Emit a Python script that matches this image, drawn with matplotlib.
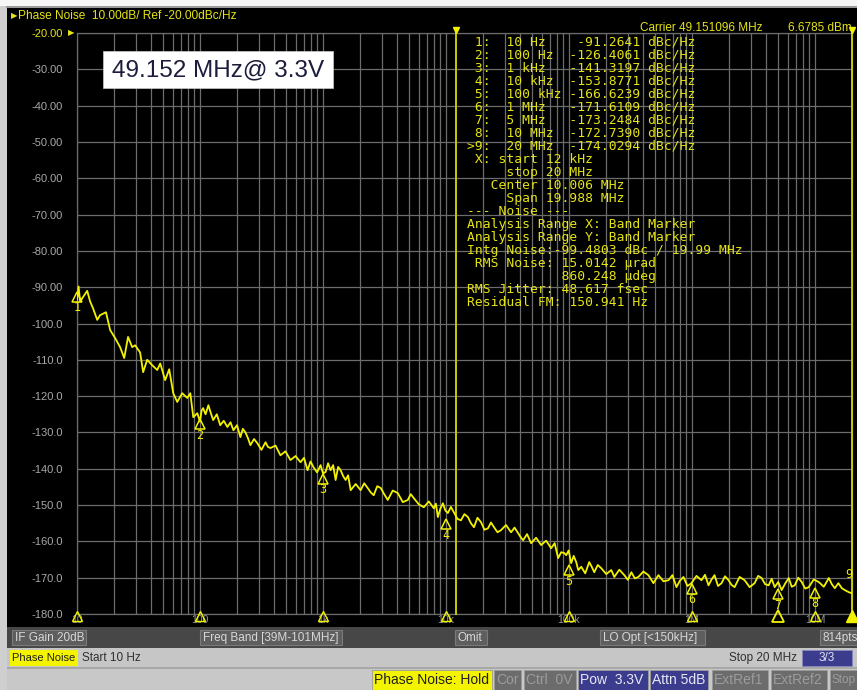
import matplotlib
matplotlib.use("Agg")
import matplotlib.pyplot as plt
from matplotlib.patches import Rectangle
from matplotlib import transforms as mtrans
from matplotlib.ticker import LogLocator, FixedLocator, NullFormatter

# ---------------- data ----------------
freq_hz = [10, 10.3, 10.6, 11.2, 12.1, 12.8, 13.5, 14.6, 15.4, 17.2, 18.6, 20.4, 22.4, 24.2,
           26.0, 28.1, 29.7, 32.6, 34.5, 37.2, 40.9, 44.9, 47.5, 52.1, 56.2, 60.6, 65.3, 71.7,
           78.8, 83.4, 88.2, 95.1,
           100, 103, 106, 111, 117, 122, 128, 137, 146, 156, 167, 177, 187, 200, 213, 223,
           234, 245, 257, 275, 293, 316, 341, 357, 374, 411, 451, 495, 544, 598, 657, 701,
           749, 792, 838, 895, 956, 1000, 1050, 1100, 1153, 1209, 1267, 1328, 1391, 1458,
           1528, 1600, 1679, 1844, 2025, 2162, 2309, 2443, 2584, 2760, 2947, 3147, 3361,
           3692, 4055, 4454, 4892, 5175, 5475, 6013, 6605, 7255, 7968, 8273, 8590, 9000,
           9434, 9886, 10360, 10960, 11600, 12390, 13230, 14120, 15080, 15950, 16880, 18030,
           19250, 20560, 21950, 23220, 24570, 26240, 28020, 30780, 33810, 36100, 38550,
           40400, 42350, 45640, 49190, 54030, 59350, 65190, 71600, 76460, 81660, 86380,
           91400, 94900, 99400, 104200, 109200, 114500, 118900, 125800, 135600, 146100,
           153100, 160500, 171400, 183000, 201000, 220800, 233600, 256600, 281800, 301000,
           321400, 343200, 366400, 402500, 442200, 485700, 533400, 585900, 643500, 693600,
           747700, 798500, 852700, 919000, 990600, 1.088e6, 1.195e6, 1.276e6, 1.363e6,
           1.442e6, 1.525e6, 1.629e6, 1.74e6, 1.857e6, 1.983e6, 2.098e6, 2.22e6, 2.439e6,
           2.68e6, 2.943e6, 3.232e6, 3.452e6, 3.686e6, 3.936e6, 4.203e6, 4.446e6, 4.703e6,
           5.022e6, 5.363e6, 5.727e6, 6.116e6, 6.470e6, 6.845e6, 7.309e6, 7.805e6, 8.335e6,
           8.902e6, 9.778e6, 1.074e7, 1.18e7, 1.296e7, 1.371e7, 1.45e7, 1.549e7, 1.654e7,
           1.766e7, 1.886e7, 2.0e7]
phase_noise_dbc = [-93.5, -89.8, -94.0, -92.7, -91.0, -94.0, -95.8, -99.0, -97.7, -96.9, -101.8,
                   -104.0, -106.5, -109.5, -103.7, -106.5, -106.0, -108.0, -113.4, -110.0, -111.5,
                   -112.8, -111.0, -115.6, -112.6, -119.2, -121.6, -119.2, -120.5, -119.2, -125.8,
                   -124.7,
                   -127.0, -124.0, -123.3, -125.0, -122.5, -124.5, -126.6, -125.0, -128.0, -126.8,
                   -128.5, -127.2, -129.4, -128.0, -131.3, -129.0, -130.0, -131.5, -133.5, -131.8,
                   -133.0, -134.8, -132.7, -134.0, -134.3, -133.6, -136.3, -135.2, -137.6, -136.5,
                   -138.2, -137.0, -140.4, -138.0, -139.6, -141.0, -139.0, -141.3, -140.9, -138.5,
                   -140.4, -139.0, -143.1, -139.5, -140.4, -142.0, -143.1, -141.8, -145.9, -144.2,
                   -145.9, -144.0, -145.3, -146.5, -147.3, -144.8, -145.3, -147.0, -148.6, -146.0,
                   -146.7, -149.2, -148.6, -147.0, -148.1, -149.8, -150.6, -149.0, -150.9, -149.6,
                   -153.3, -151.0, -149.5, -151.5, -152.2, -150.5, -152.0, -153.8, -154.2, -152.5,
                   -153.3, -155.0, -156.1, -153.5, -154.7, -156.8, -156.4, -154.8, -156.1, -157.5,
                   -156.9, -155.5, -157.5, -156.2, -157.7, -158.8, -159.7, -158.0, -160.5, -159.0,
                   -161.0, -159.8, -161.9, -160.5, -164.6, -163.0, -163.2, -163.8, -162.5, -166.0,
                   -164.0, -165.7, -167.9, -167.0, -168.8, -165.7, -167.0, -168.5, -166.5, -167.4,
                   -169.0, -167.9, -169.8, -167.8, -169.3, -170.6, -168.5, -170.2, -169.8, -168.3,
                   -169.3, -171.5, -169.3, -171.0, -170.7, -169.3, -172.6, -170.8, -169.8, -172.3,
                   -171.5, -169.5, -170.7, -169.2, -172.1, -170.5, -169.3, -172.3, -171.5, -169.6,
                   -170.7, -172.0, -172.6, -169.8, -170.7, -172.6, -171.5, -169.5, -170.1, -171.8,
                   -172.1, -170.3, -172.6, -171.2, -173.4, -171.6, -170.1, -172.5, -172.1, -170.0,
                   -171.2, -173.0, -172.6, -170.5, -171.2, -172.5, -170.1, -171.8, -172.9, -171.5,
                   -172.9, -173.5, -174.0, -174.3]

marker_ids = ["1", "2", "3", "4", "5", "6", "7", "8", "9"]
marker_freq = [10, 100, 1e3, 1e4, 1e5, 1e6, 5e6, 1e7, 2e7]
marker_freq_txt = ["10 Hz", "100 Hz", "1 kHz", "10 kHz", "100 kHz", "1 MHz", "5 MHz", "10 MHz", "20 MHz"]
marker_val = [-91.2641, -126.4061, -141.3197, -153.8771, -166.6239, -171.6109, -173.2484, -172.7390, -174.0294]

band_start_hz = 12e3
band_stop_hz = 20e6

y_ticks = [-20, -30, -40, -50, -60, -70, -80, -90, -100, -110, -120, -130, -140, -150, -160, -170, -180]
y_labels = ["-20.00", "-30.00", "-40.00", "-50.00", "-60.00", "-70.00", "-80.00", "-90.00",
            "-100.0", "-110.0", "-120.0", "-130.0", "-140.0", "-150.0", "-160.0", "-170.0", "-180.0"]
x_ticks = [10, 100, 1e3, 1e4, 1e5, 1e6, 1e7]
x_labels = ["10", "100", "1k", "10k", "100k", "1M", "10M"]

info_lines = [
    " X: start 12 kHz",
    "     stop 20 MHz",
    "   Center 10.006 MHz",
    "     Span 19.988 MHz",
    "--- Noise ---",
    "Analysis Range X: Band Marker",
    "Analysis Range Y: Band Marker",
    "Intg Noise:-99.4803 dBc / 19.99 MHz",
    " RMS Noise: 15.0142 \u00b5rad",
    "            860.248 \u00b5deg",
    "RMS Jitter: 48.617 fsec",
    "Residual FM: 150.941 Hz",
]

# ---------------- figure ----------------
W, H = 857, 690
fig = plt.figure(figsize=(W / 100, H / 100), dpi=100)
fig.patch.set_facecolor("#d2d2d2")

bg = fig.add_axes([0, 0, 1, 1])
bg.set_xlim(0, W)
bg.set_ylim(H, 0)
bg.axis("off")
bg.set_zorder(0)

YEL = "#f2f200"
TXTYEL = "#e4e418"
UI = "Liberation Sans"


def rect(x0, y0, x1, y1, fc, ec="none", lw=0.0, z=1):
    bg.add_patch(Rectangle((x0, y0), x1 - x0, y1 - y0, facecolor=fc, edgecolor=ec, lw=lw, zorder=z))


# frame
rect(0, 0, W, 6, "#f6f6f6")
rect(0, 6, 7, H, "#cfcfcf")
rect(6, 6, W, 8, "#9a9a9a")
rect(7, 8, W, 627, "black")
# row 1
rect(7, 627, W, 648, "#474747")
for (x0, x1, t) in [(12, 86, "IF Gain 20dB"), (200, 342, "Freq Band [39M-101MHz]"),
                    (455, 487, "Omit"), (600, 705, "LO Opt [<150kHz]"), (820, 860, "814pts")]:
    rect(x0, 630, x1, 645, "#5e5e5e", ec="#7a7a7a", lw=0.8, z=2)
    bg.text(x0 + 3, 638, t, color="#d8d8d8", fontsize=8.5, family=UI, va="center", zorder=3)
# row 2
rect(7, 648, W, 668, "#c6c6c6")
rect(7, 667, W, 669, "#a8a8a8")
rect(10, 650, 78, 666, "#f4f400", z=2)
bg.text(12, 658, "Phase Noise", color="#202020", fontsize=8, family=UI, va="center", zorder=3)
bg.text(82, 658, "Start 10 Hz", color="#303030", fontsize=8.5, family=UI, va="center", zorder=3)
bg.text(797, 658, "Stop 20 MHz", color="#303030", fontsize=8.5, family=UI, va="center",
        ha="right", zorder=3)
rect(802, 650, 852, 666, "#3c3c8e", ec="#8888bb", lw=0.6, z=2)
bg.text(827, 658, "3/3", color="#e0e0f0", fontsize=8.5, family=UI, va="center", ha="center", zorder=3)
# row 3
rect(7, 669, W, H, "#c8c8c8")
for (x0, x1, t, fc, tc, fs) in [(372, 492, "Phase Noise: Hold", "#f4f400", "#202020", 10),
                                (494, 521, "Cor", "#6c6c6c", "#9c9c9c", 10),
                                (524, 576, "Ctrl  0V", "#6c6c6c", "#9c9c9c", 10),
                                (578, 648, "Pow  3.3V", "#3c3c8e", "#e6e6f4", 10),
                                (650, 708, "Attn 5dB", "#3c3c8e", "#e6e6f4", 10),
                                (712, 768, "ExtRef1", "#6c6c6c", "#9c9c9c", 10),
                                (771, 827, "ExtRef2", "#6c6c6c", "#9c9c9c", 10),
                                (830, 870, "Stop", "#6c6c6c", "#9c9c9c", 8.5)]:
    rect(x0, 670, x1, H, fc, ec="#9a9a9a", lw=0.6, z=2)
    bg.text(x0 + 2, 680, t, color=tc, fontsize=fs, family=UI, va="center", zorder=3)

# header texts
bg.text(11, 16, "\u25b6", color=TXTYEL, fontsize=6, va="center", family="DejaVu Sans")
bg.text(18, 16, "Phase Noise  10.00dB/ Ref -20.00dBc/Hz", color=TXTYEL, fontsize=8.6,
        family=UI, va="center")
bg.text(640, 28, "Carrier 49.151096 MHz", color=TXTYEL, fontsize=8.5, family=UI, va="center")
bg.text(788, 28, "6.6785 dBm", color=TXTYEL, fontsize=8.5, family=UI, va="center")

# ---------------- main axes ----------------
ax = fig.add_axes([77 / W, 1 - 614 / H, 775 / W, 581 / H])
ax.set_zorder(1)
ax.set_facecolor("black")
ax.patch.set_alpha(0)
ax.set_xscale("log")
ax.set_xlim(10, 2e7)
ax.set_ylim(-180, -20)
ax.set_xticks(x_ticks, x_labels)
ax.xaxis.set_minor_locator(LogLocator(base=10, subs=range(2, 10)))
ax.xaxis.set_minor_formatter(NullFormatter())
ax.set_yticks(y_ticks, y_labels)
ax.grid(which="both", color="#6c6c6c", lw=0.9)
ax.tick_params(which="both", length=0)
ax.tick_params(axis="y", colors="#a8a8a8", labelsize=8, pad=10)
ax.tick_params(axis="x", colors="#9a9a9a", labelsize=7.5, pad=1)
for lab in ax.get_yticklabels() + ax.get_xticklabels():
    lab.set_family(UI)
ax.get_yticklabels()[0].set_color(TXTYEL)
for s in ax.spines.values():
    s.set_color("#6c6c6c")
    s.set_lw(0.9)
ax.set_axisbelow(True)

# band markers (vertical lines)
bt = mtrans.blended_transform_factory(ax.transData, ax.transAxes)
for f in (band_start_hz, band_stop_hz):
    ax.plot([f, f], [0, 1.009], transform=bt, color="#c9c900", lw=1.4, clip_on=False, zorder=3)
    ax.plot([f], [1.006], transform=bt, marker="v", color=YEL, ms=4, clip_on=False, zorder=4)

# trace
ax.plot(freq_hz, phase_noise_dbc, color=YEL, lw=1.3, zorder=5)

# markers on the trace
tri_tr = mtrans.offset_copy(ax.transData, fig=fig, x=0, y=-5, units="dots")
for mid, f, v in zip(marker_ids, marker_freq, marker_val):
    if mid == "9":
        ax.annotate(mid, (f, v), xytext=(-3, 18), textcoords="offset pixels", color=YEL,
                    fontsize=8.5, family="DejaVu Sans Mono", ha="center", va="center",
                    annotation_clip=False, zorder=6)
        continue
    ax.plot([f], [v], transform=tri_tr, marker="^", ms=6.5, mfc="none", mec=YEL, mew=1.1,
            clip_on=False, zorder=6)
    ax.annotate(mid, (f, v), xytext=(0, -16), textcoords="offset pixels", color=YEL,
                fontsize=8.5, family="DejaVu Sans Mono", ha="center", va="center",
                annotation_clip=False, zorder=6)

# axis triangles
ax_tr = mtrans.offset_copy(bt, fig=fig, x=0, y=-2, units="dots")
for f in x_ticks:
    ax.plot([f], [0], transform=ax_tr, marker="^", ms=7, mfc="none", mec=YEL, mew=1.0,
            clip_on=False, zorder=6)
ax.plot([marker_freq[6]], [0], transform=ax_tr, marker="^", ms=8, mfc="none", mec=YEL, mew=1.3,
        clip_on=False, zorder=6)
ax.plot([marker_freq[8]], [0], transform=ax_tr, marker="^", ms=8, mfc=YEL, mec=YEL,
        clip_on=False, zorder=6)

# overlay axes for text above plot
top = fig.add_axes([0, 0, 1, 1])
top.set_xlim(0, W)
top.set_ylim(H, 0)
top.axis("off")
top.set_zorder(2)

top.text(68, 33, "\u25b6", color=TXTYEL, fontsize=6, va="center", family="DejaVu Sans")

# marker table
y0 = 41.7
for i, (mid, ft, v) in enumerate(zip(marker_ids, marker_freq_txt, marker_val)):
    prefix = ">" if mid == "9" else " "
    line = f"{prefix}{mid}:  {ft:<8}{v:>9.4f} dBc/Hz"
    top.text(467, y0 + 13.04 * i, line, color=TXTYEL, fontsize=9.4, family="DejaVu Sans Mono",
             va="center")
for j, line in enumerate(info_lines):
    top.text(467, y0 + 13.04 * (9 + j), line, color=TXTYEL, fontsize=9.4, family="DejaVu Sans Mono",
             va="center")

# title box
top.add_patch(Rectangle((103, 51), 230, 37, facecolor="white", edgecolor="#cccccc", lw=0.5))
top.text(218, 70, "49.152 MHz@ 3.3V", color="#1c1c3c", fontsize=17.5, family=UI,
         ha="center", va="center")

fig.savefig("out.png", dpi=100, facecolor=fig.get_facecolor())
